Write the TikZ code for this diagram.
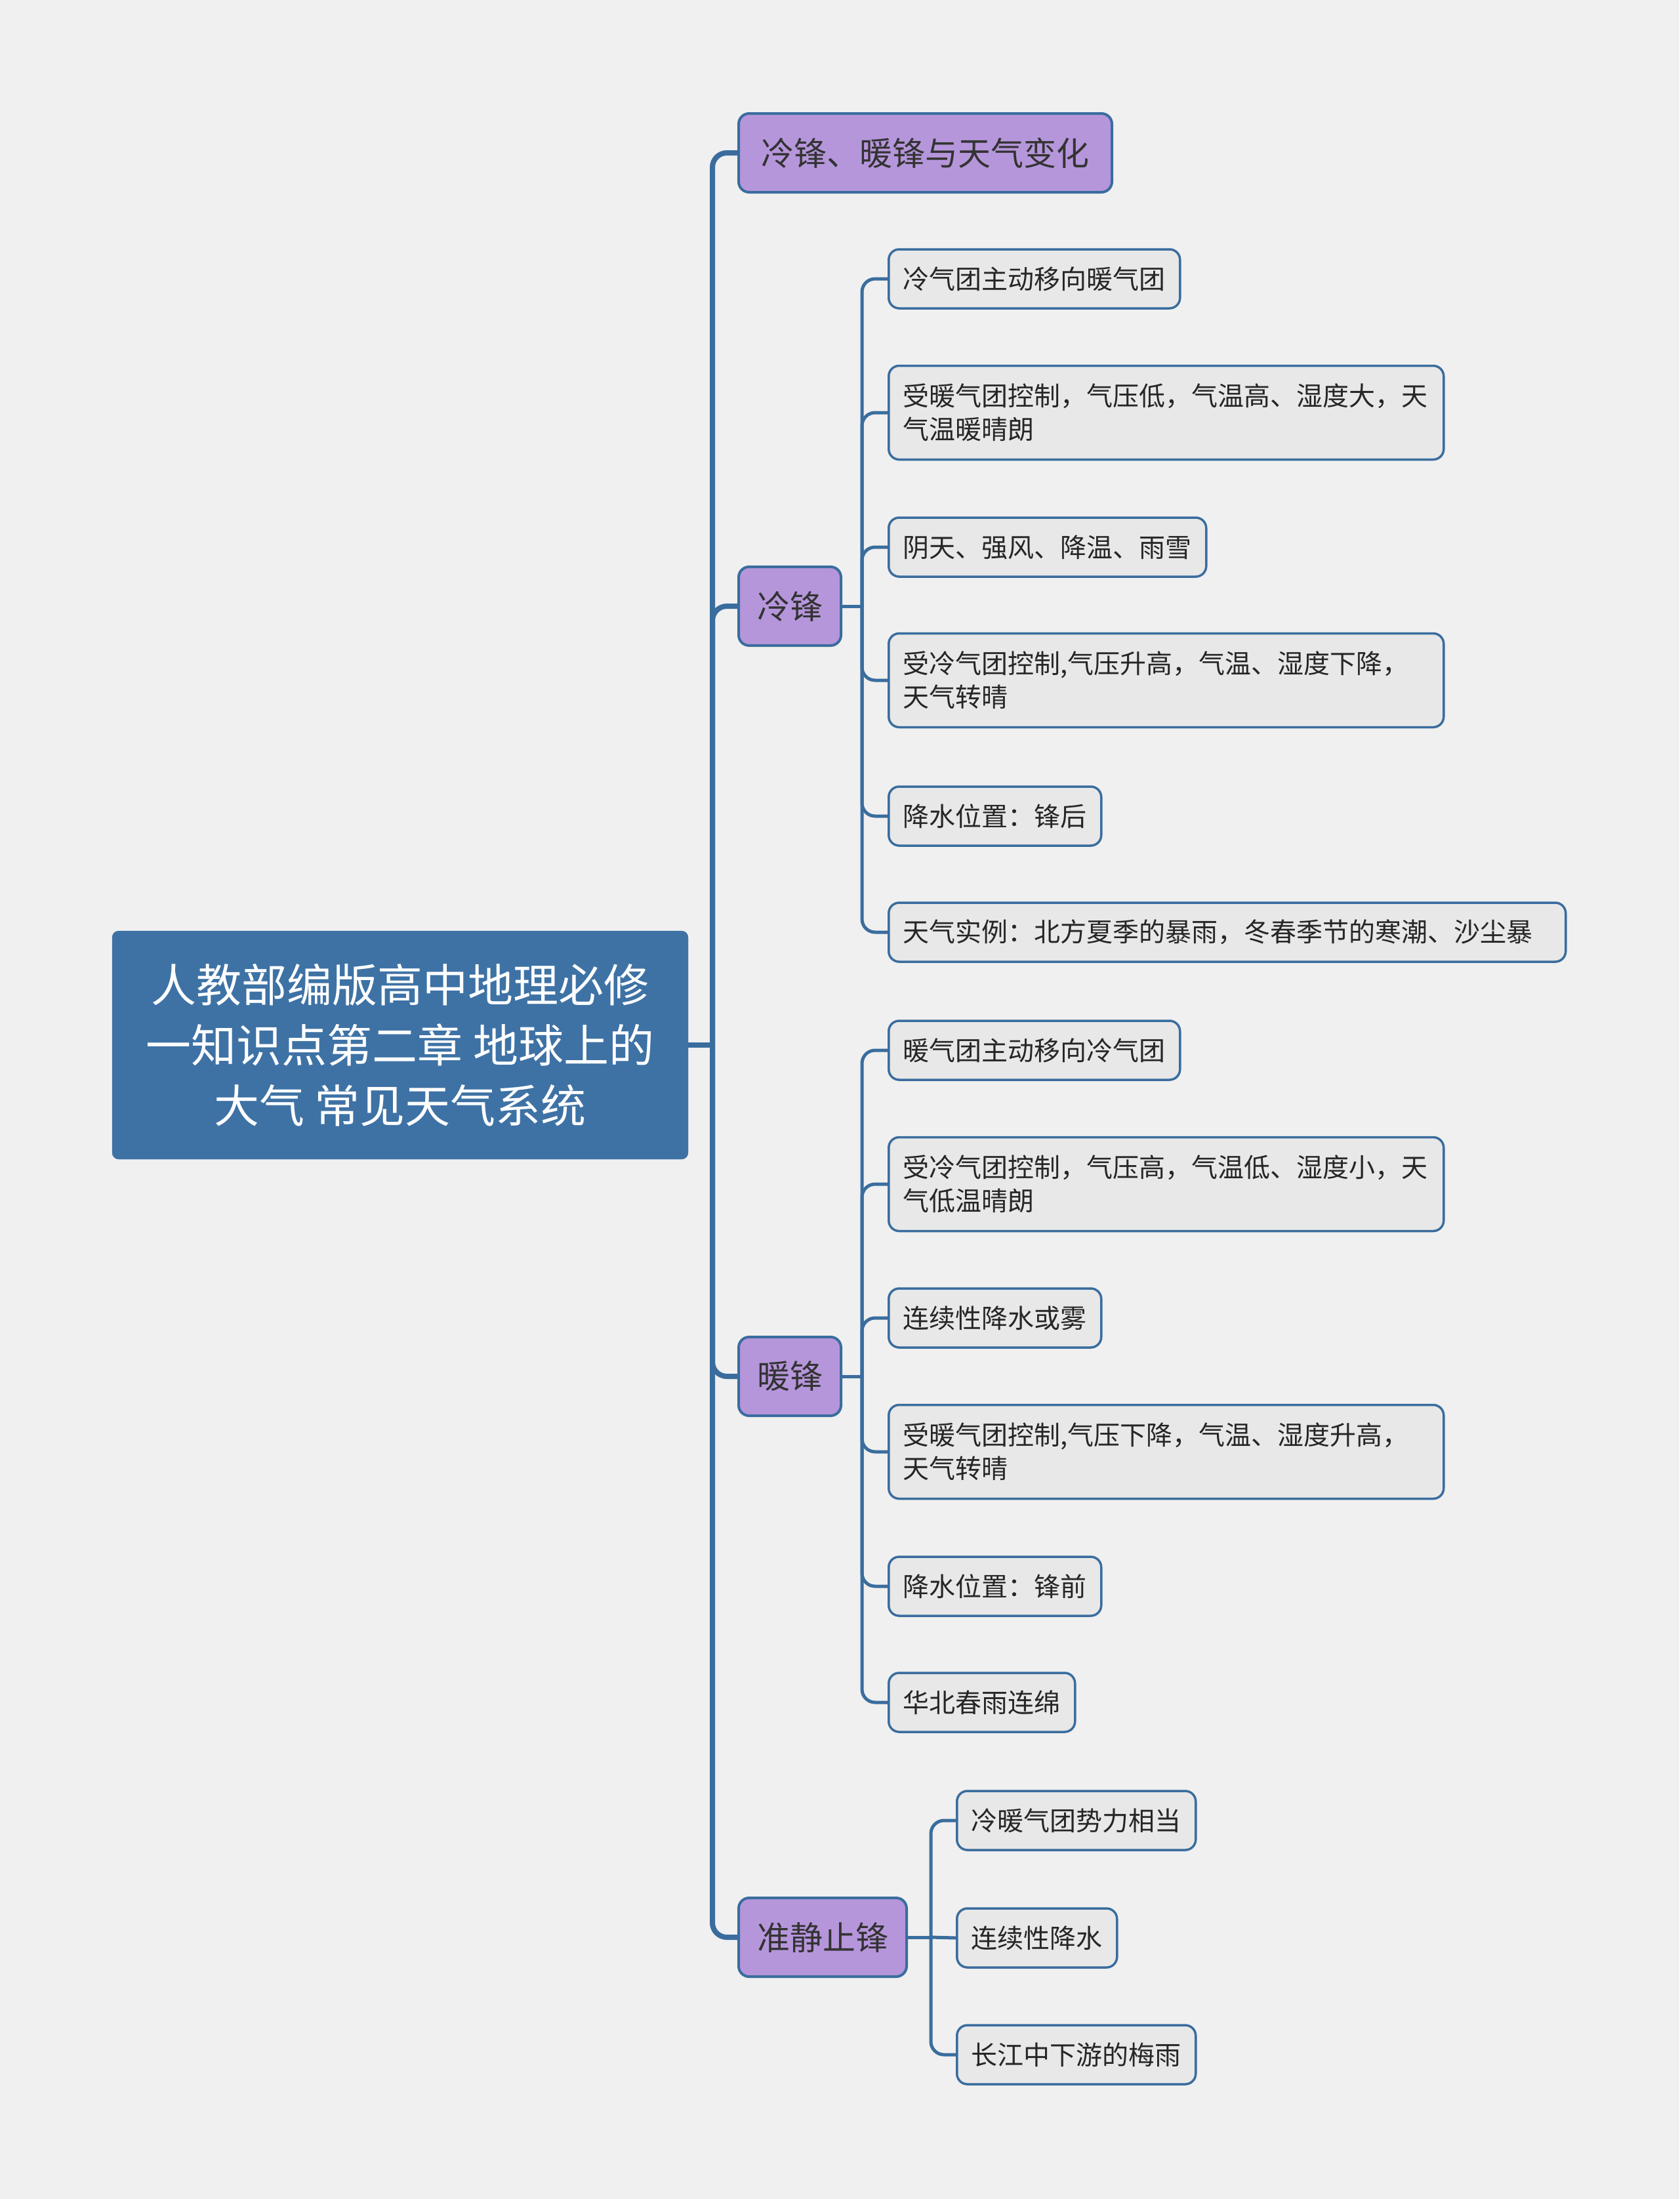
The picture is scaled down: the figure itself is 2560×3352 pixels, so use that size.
\documentclass[tikz,border=0pt]{standalone}
\usepackage{fontspec}
\setmainfont{Noto Sans CJK SC}
\definecolor{bg}{HTML}{F0F0F0}
\definecolor{rootc}{HTML}{3E72A5}
\definecolor{linec}{HTML}{3A6D9E}
\definecolor{purp}{HTML}{B696DB}
\definecolor{leafc}{HTML}{E8E8E8}
\definecolor{txt}{HTML}{333333}
\tikzset{
 rootbox/.style={rectangle, rounded corners=10pt, fill=rootc, draw=rootc, text=white, minimum width=878pt, minimum height=348pt, align=center, font=\fontsize{69}{92}\selectfont},
 branchbox/.style={rectangle, rounded corners=16pt, fill=purp, draw=linec, line width=4pt, text=txt, minimum height=120pt, inner xsep=28pt, anchor=west, font=\fontsize{50}{60}\selectfont},
 leafbox/.style={rectangle, rounded corners=16pt, fill=leafc, draw=linec, line width=3.5pt, text=black!85, minimum height=90pt, inner xsep=22pt, anchor=west, align=left, font=\fontsize{40}{51}\selectfont},
 twoline/.style={text width=802pt, minimum height=143pt},
 mainline/.style={draw=linec, line width=8pt, rounded corners=22pt},
 subline/.style={draw=linec, line width=5pt, rounded corners=20pt},
}
\begin{document}
\begin{tikzpicture}[x=1pt,y=-1pt]
\fill[bg] (0,0) rectangle (2560,3352);
\useasboundingbox (0,0) rectangle (2560,3352);

% root
\node[rootbox] (root) at (610,1593) {人教部编版高中地理必修\\一知识点第二章 地球上的\\大气 常见天气系统};

% branches
\node[branchbox, minimum width=569pt] (b1) at (1124,233) {冷锋、暖锋与天气变化};
\node[branchbox] (cold) at (1124,924) {冷锋};
\node[branchbox] (warm) at (1124,2098) {暖锋};
\node[branchbox] (quasi) at (1124,2953) {准静止锋};

% cold front leaves
\node[leafbox] (c1) at (1353,425) {冷气团主动移向暖气团};
\node[leafbox,twoline] (c2) at (1353,629) {受暖气团控制，气压低，气温高、湿度大，天\\气温暖晴朗};
\node[leafbox] (c3) at (1353,834) {阴天、强风、降温、雨雪};
\node[leafbox,twoline] (c4) at (1353,1037) {受冷气团控制,气压升高，气温、湿度下降，\\天气转晴};
\node[leafbox] (c5) at (1353,1244) {降水位置：锋后};
\node[leafbox, text width=988pt] (c6) at (1353,1421) {天气实例：北方夏季的暴雨，冬春季节的寒潮、沙尘暴};

% warm front leaves
\node[leafbox] (w1) at (1353,1601) {暖气团主动移向冷气团};
\node[leafbox,twoline] (w2) at (1353,1805) {受冷气团控制，气压高，气温低、湿度小，天\\气低温晴朗};
\node[leafbox] (w3) at (1353,2009) {连续性降水或雾};
\node[leafbox,twoline] (w4) at (1353,2213) {受暖气团控制,气压下降，气温、湿度升高，\\天气转晴};
\node[leafbox] (w5) at (1353,2418) {降水位置：锋前};
\node[leafbox] (w6) at (1353,2595) {华北春雨连绵};

% quasi-stationary leaves
\node[leafbox] (q1) at (1457,2775) {冷暖气团势力相当};
\node[leafbox] (q2) at (1457,2954) {连续性降水};
\node[leafbox] (q3) at (1457,3132) {长江中下游的梅雨};

% junctions
\coordinate (J) at (1086,1593);
\coordinate (CJ) at (1314,924);
\coordinate (WJ) at (1314,2098);
\coordinate (QJ) at (1419,2953);

% main connectors
\draw[mainline] (root.east) -- (J);
\foreach \b in {b1,cold,warm,quasi}{
  \draw[mainline] (J) |- (\b.west);
}

% cold front connectors
\draw[subline] (cold.east) -- (CJ);
\foreach \l in {c1,c2,c3,c4,c5,c6}{
  \draw[subline] (CJ) |- (\l.west);
}
% warm front connectors
\draw[subline] (warm.east) -- (WJ);
\foreach \l in {w1,w2,w3,w4,w5,w6}{
  \draw[subline] (WJ) |- (\l.west);
}
% quasi connectors
\draw[subline] (quasi.east) -- (QJ);
\draw[subline] (QJ) |- (q1.west);
\draw[subline] (QJ) -- (q2.west);
\draw[subline] (QJ) |- (q3.west);
\end{tikzpicture}
\end{document}
